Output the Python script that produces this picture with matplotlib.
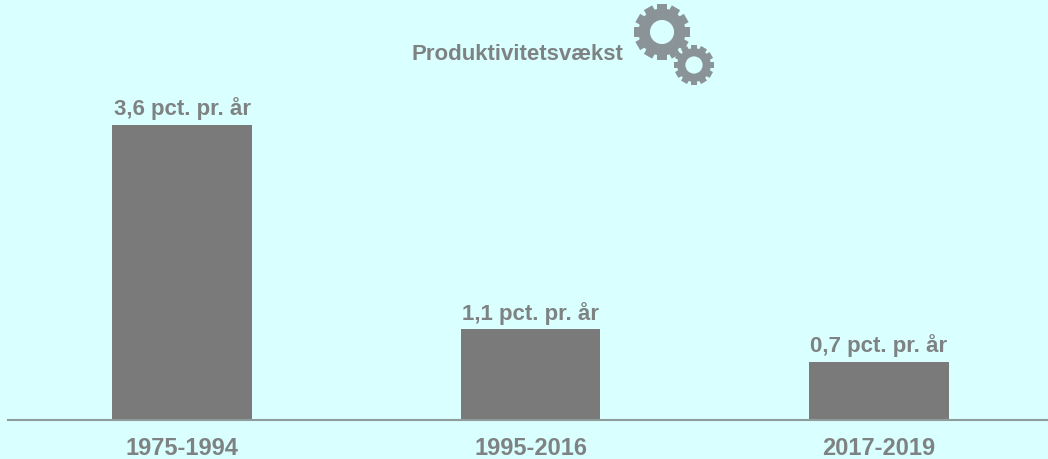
import matplotlib
matplotlib.use("Agg")
import matplotlib.pyplot as plt
from matplotlib.patches import Circle, Rectangle
from matplotlib.transforms import Affine2D

periods = ["1975-1994", "1995-2016", "2017-2019"]
growth = [3.6, 1.1, 0.7]
labels = ["3,6 pct. pr. år", "1,1 pct. pr. år", "0,7 pct. pr. år"]
title = "Produktivitetsvækst"

bg = "#d9ffff"
grey = "#7a7a7a"
textgrey = "#7f8282"
geargrey = "#8a9498"
plt.rcParams['font.family'] = ['Liberation Sans', 'DejaVu Sans']

fig = plt.figure(figsize=(10.48, 4.6), dpi=100, facecolor=bg)
ax = fig.add_axes([0, 40 / 460, 1, 1 - 40 / 460])
ax.set_facecolor(bg)
ax.bar(range(3), growth, width=0.4, color=grey)
ax.set_xlim((0 - 182) / 348.5, (1048 - 182) / 348.5)
ax.set_ylim(0, 420 / (294 / 3.6))

for i, lab in enumerate(labels):
    ax.annotate(lab, (i, growth[i]), xytext=(0, 4), textcoords="offset points",
                ha="center", va="bottom", fontsize=16, fontweight="bold", color=textgrey)

for s in ax.spines.values():
    s.set_visible(False)
ax.yaxis.set_visible(False)
ax.set_xticks(range(3), periods)
ax.tick_params(axis="x", length=0, pad=12, labelsize=17, labelcolor=textgrey)
for t in ax.get_xticklabels():
    t.set_fontweight("bold")
fig.add_artist(plt.Line2D([8 / 1048, 1], [39.5 / 460, 39.5 / 460], color="#8f9c9c", lw=1.5))

fig.text(517 / 1048, 1 - 54.5 / 460, title, ha="center", va="center",
         fontsize=16, fontweight="bold", color=textgrey)


# gear icons in pixel coordinates
def gear(cx, cy, r, teeth):
    pix = Affine2D().scale(1, -1).translate(0, 460)
    for k in range(teeth):
        tooth = Rectangle((cx - r * 0.17, cy - r), r * 0.34, r * 2, color=geargrey, lw=0,
                          transform=Affine2D().rotate_deg_around(cx, cy, k * 180 / teeth) + pix)
        fig.add_artist(tooth)
    fig.add_artist(Circle((cx, cy), r * 0.84, color=geargrey, lw=0, transform=pix))
    fig.add_artist(Circle((cx, cy), r * 0.43, color=bg, lw=0, transform=pix))


gear(662, 33, 28, 6)
gear(694, 66, 20, 6)

fig.savefig("out.png", dpi=100, facecolor=bg)
